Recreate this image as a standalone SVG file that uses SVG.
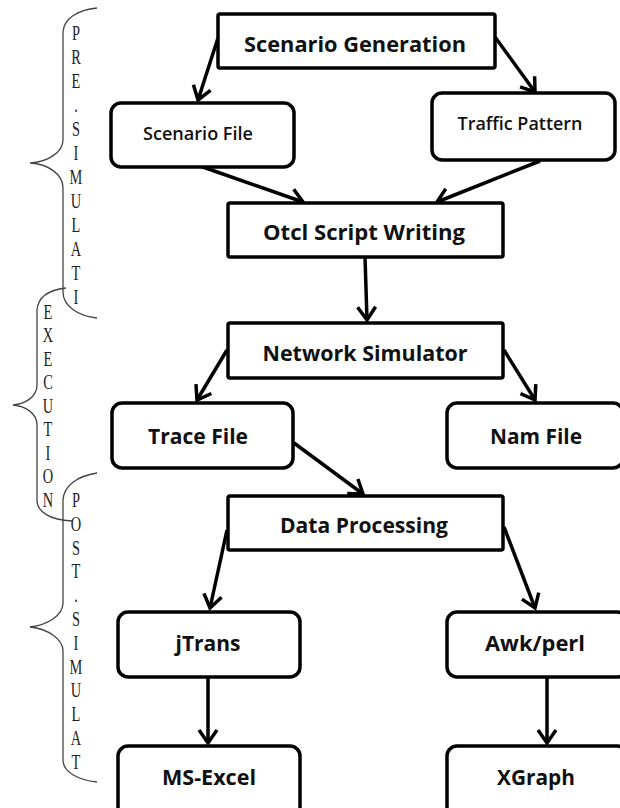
<svg xmlns="http://www.w3.org/2000/svg" width="620" height="808" viewBox="0 0 620 808">
<defs>
<style>
.box{fill:#fff;stroke:#000;stroke-width:3.5}
.lbl{font-family:"Open Sans","Liberation Sans",sans-serif;font-weight:bold;font-size:21.5px;fill:#111;text-anchor:middle}
.sm{font-size:18px;font-weight:600}
.conn line{stroke:#000;stroke-width:3.5;marker-end:url(#arr)}
.brace{fill:none;stroke:#444;stroke-width:1.3}
.vt{font-family:"Liberation Serif","Times New Roman",serif;font-size:20px;fill:#222;text-anchor:middle}
</style>
<marker id="arr" markerUnits="userSpaceOnUse" markerWidth="30" markerHeight="30" viewBox="-15 -15 30 30" refX="0" refY="0" orient="auto" overflow="visible">
<path d="M-13,-9 L0,0 L-13,9" fill="none" stroke="#000" stroke-width="3.5" stroke-linejoin="miter"/>
</marker>
</defs>
<rect width="620" height="808" fill="#fff"/>

<g id="phases">
<path class="brace" d="M97,8 C78,10 64,18 63,32 L63,140 C63,152 48,162 30,163 C48,164 63,174 63,188 L63,292 C63,306 78,316 97,318"/>
<text class="vt" transform="translate(76,0) scale(0.72,1)" x="0 0 0 0 0 0 0 0 0 0 0 0" y="40 64 88 112 136 160 184 208 232 256 280 304">PRE.SIMULATI</text>
<path class="brace" d="M66,288 C48,290 38,298 37,310 L37,385 C37,397 25,404 13,405 C25,406 37,413 37,425 L37,500 C37,512 50,520 72,521"/>
<text class="vt" transform="translate(48,0) scale(0.72,1)" x="0 0 0 0 0 0 0 0 0" y="319 342 366 389 413 436 460 483 507">EXECUTION</text>
<path class="brace" d="M97,473 C78,476 64,485 63,500 L63,603 C63,615 48,625 30,627 C48,629 63,639 63,651 L63,760 C63,772 78,780 97,782"/>
<text class="vt" transform="translate(76,0) scale(0.72,1)" x="0 0 0 0 0 0 0 0 0 0 0 0" y="507 531 555 578 602 626 650 674 697 721 745 769">POST.SIMULAT</text>
</g>

<g id="connectors" class="conn">
<line x1="218" y1="38" x2="198" y2="100"/>
<line x1="495" y1="37" x2="535" y2="92"/>
<line x1="200" y1="166" x2="303" y2="202"/>
<line x1="540" y1="161" x2="437" y2="202"/>
<line x1="365" y1="257" x2="367" y2="320"/>
<line x1="227" y1="350" x2="197" y2="400"/>
<line x1="504" y1="350" x2="535" y2="400"/>
<line x1="294" y1="443" x2="363" y2="494"/>
<line x1="227" y1="530" x2="210" y2="608"/>
<line x1="504" y1="527" x2="535" y2="608"/>
<line x1="208" y1="677" x2="208" y2="743"/>
<line x1="547" y1="677" x2="547" y2="743"/>
</g>

<g id="scenario-generation">
<rect class="box" x="218" y="14" width="277" height="54" rx="2"/>
<text class="lbl" x="355" y="52" textLength="222" lengthAdjust="spacingAndGlyphs">Scenario Generation</text>
</g>
<g id="scenario-file">
<rect class="box" x="111" y="103" width="183" height="64" rx="10"/>
<text class="lbl sm" x="198" y="140" textLength="110" lengthAdjust="spacingAndGlyphs">Scenario File</text>
</g>
<g id="traffic-pattern">
<rect class="box" x="432" y="93" width="183" height="67" rx="10"/>
<text class="lbl sm" x="520" y="130" textLength="125" lengthAdjust="spacingAndGlyphs">Traffic Pattern</text>
</g>
<g id="otcl-script-writing">
<rect class="box" x="228" y="203" width="275" height="54" rx="2"/>
<text class="lbl" x="364" y="240" textLength="202" lengthAdjust="spacingAndGlyphs">Otcl Script Writing</text>
</g>
<g id="network-simulator">
<rect class="box" x="228" y="323" width="275" height="55" rx="2"/>
<text class="lbl" x="365" y="361" textLength="205" lengthAdjust="spacingAndGlyphs">Network Simulator</text>
</g>
<g id="trace-file">
<rect class="box" x="112" y="403" width="181" height="65" rx="10"/>
<text class="lbl" x="198" y="444" textLength="100" lengthAdjust="spacingAndGlyphs">Trace File</text>
</g>
<g id="nam-file">
<rect class="box" x="447" y="403" width="176" height="65" rx="10"/>
<text class="lbl" x="536" y="444" textLength="92" lengthAdjust="spacingAndGlyphs">Nam File</text>
</g>
<g id="data-processing">
<rect class="box" x="228" y="496" width="275" height="54" rx="2"/>
<text class="lbl" x="364" y="533" textLength="168" lengthAdjust="spacingAndGlyphs">Data Processing</text>
</g>
<g id="jtrans">
<rect class="box" x="118" y="612" width="182" height="65" rx="10"/>
<text class="lbl" x="208" y="651" textLength="65" lengthAdjust="spacingAndGlyphs">jTrans</text>
</g>
<g id="awk-perl">
<rect class="box" x="447" y="612" width="180" height="65" rx="10"/>
<text class="lbl" x="535" y="651" textLength="100" lengthAdjust="spacingAndGlyphs">Awk/perl</text>
</g>
<g id="ms-excel">
<rect class="box" x="118" y="746" width="182" height="75" rx="10"/>
<text class="lbl" x="209" y="785" textLength="94" lengthAdjust="spacingAndGlyphs">MS-Excel</text>
</g>
<g id="xgraph">
<rect class="box" x="447" y="746" width="180" height="75" rx="10"/>
<text class="lbl" x="536" y="785" textLength="78" lengthAdjust="spacingAndGlyphs">XGraph</text>
</g>
</svg>
